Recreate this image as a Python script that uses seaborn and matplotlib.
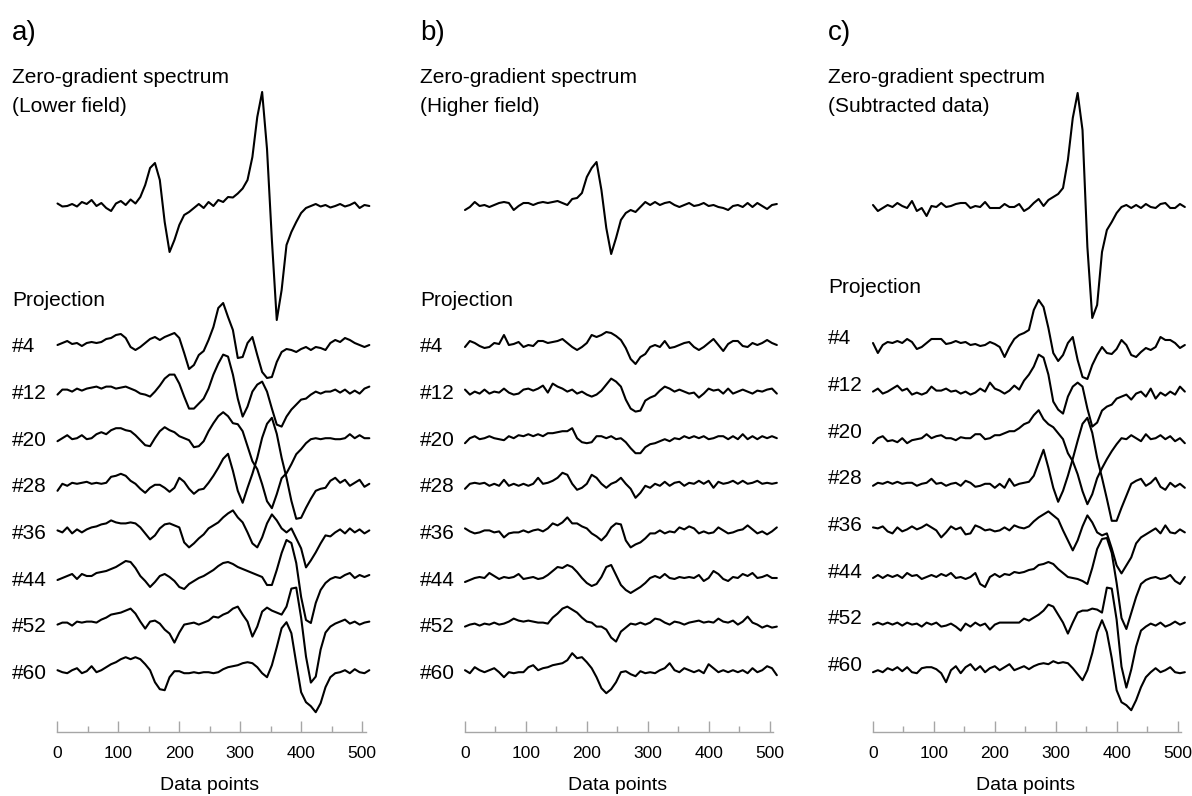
import numpy as np
import pandas as pd
import seaborn as sns
import matplotlib.pyplot as plt

# sampled data-point index (every 8th point of the 512-point spectra)
pts = np.arange(0, 513, 8)

# ---- a) lower field : amplitudes (arb. units) ----
a_zero = [1.5, -1.5, -1, 1, -1.5, 3, 1, 5, -1, 2,
          -3, -6, 1.5, 4, 0, 5.5, 1.5, 8, 20, 37,
          42, 25, -17, -47, -35, -20, -10, -7, -3, 1,
          -3, 3, -1, 5, 3, 8, 7.5, 11.5, 16.5, 25,
          48, 88, 113, 56, -35, -115, -85, -40, -27, -17,
          -8, -3, -1, 1, -1.5, 0, -2.5, -1, 1, -1.5,
          0, 2.5, -3, 0, -1]
a_p04 = [0, 2, 4, 1, 2, -1, 2, 3, 2, 3,
         6, 7, 10, 11, 7, -2, -5, -2, 2, 6,
         8, 5, 8, 10, 12, 7, -8, -24, -20, -10,
         -6, 5, 18, 37, 42, 28, 15, -13, -12, 2,
         8, -10, -27, -33, -32, -17, -7, -4, -5, -7,
         -4, -2, -5, -2, -3, -5, 2, 5, 3, 7,
         5, 2, 0, -2, 0]
a_p12 = [-3, 2, 2, 0, 3, 1, 3, 4, 5, 3,
         5, 5, 3, 4, 5, 3, 1, -2, -3, -5,
         0, 6, 13, 17, 17, 8, -5, -17, -17, -12,
         -7, 3, 17, 28, 37, 35, 17, -7, -25, -15,
         0, 7, 10, 0, -17, -33, -35, -25, -18, -13,
         -8, -7, -3, 0, -2, 0, 0, 2, -1, 2,
         -2, 1, -2, 3, 5]
a_p20 = [-3, 0, 3, -1, 0, 3, -1, 0, 4, 6,
         4, 8, 10, 10, 8, 7, 3, -2, -7, -8,
         0, 7, 11, 8, 6, 2, 0, -2, -9, -8,
         -3, 7, 15, 22, 26, 22, 15, 14, 7, -8,
         -23, -31, -46, -63, -70, -56, -40, -35, -26, -16,
         -11, -5, -1, 0, -1, 0, 0, -1, -1, 0,
         4, 0, 3, 0, 0]
a_p28 = [-6, 1, -1, 2, 1, 2, 3, 1, 2, 1,
         2, 8, 9, 11, 9, 4, 1, -4, -8, -3,
         0, 0, -3, -7, -3, 7, 3, -4, -9, -5,
         -4, 2, 9, 17, 26, 31, 14, -6, -18, -3,
         11, 27, 47, 61, 67, 51, 27, 7, -16, -34,
         -33, -23, -14, -6, -4, -3, 4, 7, 2, 5,
         -1, 2, 5, -2, 1]
a_p36 = [1, -1, 4, -2, 2, -1, 2, 4, 5, 7,
         8, 11, 9, 8, 8, 9, 8, 4, -2, -8,
         -4, 3, 7, 8, 6, 4, -11, -16, -12, -7,
         -3, 3, 6, 9, 14, 18, 21, 14, 9, -1,
         -12, -16, -6, 8, 17, 11, 3, -1, 3, -7,
         -17, -36, -29, -21, -12, -4, -5, -1, 2, -2,
         3, -1, 2, -2, 1]
a_p44 = [-2, 0, 2, 4, -1, 4, 2, 2, 5, 6,
         7, 9, 11, 14, 17, 16, 10, 2, -3, -9,
         -4, 2, 4, 1, -3, -9, -11, -6, -3, 0,
         2, 5, 8, 12, 15, 16, 14, 11, 9, 7,
         5, 3, 1, -7, -7, 8, 25, 38, 35, 15,
         -19, -42, -45, -25, -12, -5, -1, 1, 0, 3,
         5, 0, 3, 1, 3]
a_p52 = [0, 2, 2, -1, 3, 2, 3, 3, 2, 5,
         7, 10, 11, 12, 14, 16, 11, 3, -4, 3,
         4, 1, -5, -9, -18, -8, 0, 1, 2, 0,
         2, 4, 8, 7, 10, 12, 16, 18, 10, 3,
         -12, -2, 13, 17, 14, 12, 10, 18, 36, 37,
         7, -32, -58, -52, -25, -8, -2, 1, 3, 5,
         1, 3, 0, 2, 3]
a_p60 = [1, -1, -2, 1, 3, -2, 0, 5, -1, 1,
         4, 7, 9, 12, 14, 12, 14, 12, 7, 1,
         -11, -18, -19, -6, 0, 0, -2, -2, -1, -2,
         -1, -1, -2, -1, 2, 4, 5, 6, 8, 9,
         8, 4, -2, -6, 6, 24, 43, 49, 38, 8,
         -21, -31, -35, -41, -32, -16, -6, -2, -1, 1,
         -2, 2, -1, -2, 1]

# ---- b) higher field ----
b_zero = [-5, -2, 3, -1, 0, -2, 0, 2, 3, 2,
          -5, -1, 2, 2, 0, 2, 3, 2, 3, 4,
          2, 0, 6, 7, 12, 28, 37, 43, 15, -23,
          -49, -33, -15, -8, -5, -7, -2, 3, 0, 3,
          0, 2, 3, 0, -2, 0, 2, -1, 0, 2,
          -1, 0, -2, -3, -5, -1, 0, -2, 2, -2,
          2, -1, -4, 0, 1]
b_p04 = [-2, 4, 2, -1, -3, -2, 2, 1, 10, 0,
         1, 3, -2, 0, -1, 4, 4, 2, 3, 4,
         6, 2, -2, -5, -2, 2, 10, 8, 10, 13,
         12, 9, 5, -3, -14, -19, -12, -9, -2, 0,
         -2, 4, -3, -2, 0, 2, 3, -2, -5, -2,
         2, 6, 0, -6, 1, 4, 4, -1, -2, 2,
         0, 2, 5, 2, 0]
b_p12 = [2, -3, 0, -2, 2, -2, 0, -1, 3, -1,
         -3, -2, 2, 3, 1, 3, 6, -1, 8, 5,
         3, 0, 2, -2, 0, -3, -5, -3, 1, 7,
         13, 10, 5, -8, -17, -20, -19, -9, -6, -4,
         1, 5, 3, 0, 2, 0, -2, -1, -6, -2,
         3, 1, 2, -2, 3, -2, 0, 2, 0, -2,
         1, 0, 2, 3, -2]
b_p20 = [-5, 0, 2, -1, 0, 2, 0, -1, -2, 2,
         0, 3, 2, 4, 2, 4, 2, 5, 5, 6,
         7, 7, 10, 0, -4, -5, -4, 2, 2, 0,
         2, -1, 0, -4, -10, -15, -15, -9, -6, -5,
         -3, -1, -3, 0, -1, 2, 0, 2, 0, 2,
         -1, 0, 2, 2, -1, 2, -1, 4, -1, 2,
         -1, 2, 0, 2, 0]
b_p28 = [-4, 1, 2, 1, 2, -1, 1, -1, 5, -1,
         1, -1, 1, -1, 1, 7, 1, 2, 4, 7,
         12, 10, 1, -5, -3, 1, 10, 7, 1, -3,
         1, 3, 7, 1, -4, -13, -8, -1, -3, 1,
         -1, 3, -1, 2, 3, -1, 2, 1, 4, 1,
         4, -3, 3, 1, 2, 4, 1, 4, 1, 2,
         4, 1, 2, 1, 2]
b_p36 = [3, 0, -2, -1, 1, 1, -1, 0, -6, -2,
         -1, -1, 1, -1, 1, 2, 0, 3, 8, 6,
         9, 14, 8, 8, 5, 3, -2, -5, -9, -4,
         4, 8, 7, -9, -16, -13, -11, -7, -2, -2,
         1, -2, 0, -1, 4, 2, 5, 3, -2, 0,
         -2, -1, 4, 1, -2, -1, 1, 2, 6, 2,
         -2, 0, -3, 0, 4]
b_p44 = [-4, -2, 0, 1, 0, 5, 2, -1, 1, 0,
         1, 4, -1, 0, 1, -1, 0, 3, 7, 11,
         10, 13, 11, 6, 0, -5, -8, -6, 1, 11,
         13, 3, -7, -12, -15, -12, -9, -5, 0, 2,
         0, 4, 0, -1, 1, 0, 1, 0, 3, -3,
         0, 7, 4, -1, -3, 1, 0, 4, 2, 5,
         0, 1, 3, 0, 0]
b_p52 = [-2, 0, 1, -1, 1, 0, 2, 0, 1, 3,
         6, 4, 3, 4, 3, 2, 2, 1, 7, 11,
         16, 18, 15, 12, 7, 3, 2, -2, -2, -5,
         -13, -17, -7, -3, 1, 0, 2, 0, 2, 6,
         5, 2, 0, 3, 2, 0, 2, 3, 4, 2,
         3, 2, 6, 3, 2, 4, 0, 3, 8, 2,
         0, -3, -1, -3, -2]
b_p60 = [1, -2, 4, 1, -1, 1, 3, -1, -6, -1,
         -2, -1, -1, 4, 6, 1, 3, 4, 6, 7,
         8, 11, 18, 13, 14, 9, 3, -6, -17, -22,
         -18, -11, -1, 0, -3, -5, 0, -2, -1, -2,
         1, 3, 8, 1, -1, 3, 1, -1, 1, -2,
         7, 3, -1, 1, -1, 1, -1, 1, -2, 3,
         -1, 1, 5, 3, -4]

# ---- c) subtracted data ----
c_zero = [0, -6, -3, 0, -2, 2, -1, -3, 4, -6,
          -3, -11, -1, -2, 2, -2, -1, 1, 2, 2,
          -3, -1, -2, 3, -3, -3, -3, 1, -2, -2,
          1, -6, -3, 2, 6, -1, 5, 8, 11, 17,
          45, 87, 112, 75, -42, -113, -100, -47, -25, -17,
          -8, -2, 0, -3, 0, -3, 1, -2, -3, 1,
          2, -3, -3, 1, -2]
c_p04 = [2, -8, 0, 3, 2, 4, 2, 6, 3, -4,
         -2, 2, 6, 6, 6, 1, 2, 4, 2, 3,
         0, 1, -1, 0, 3, 1, -2, -12, -2, 6,
         10, 12, 15, 35, 45, 38, 17, -8, -16, -10,
         2, 8, -15, -32, -34, -20, -10, -2, -8, -9,
         -4, 5, 0, -10, -12, -7, -3, -5, -2, 8,
         5, 5, 2, -3, 0]
c_p12 = [0, 3, -2, 0, 3, 6, 1, 3, -3, -1,
         -3, -1, 5, 1, 1, 3, 0, 1, -2, 0,
         -3, -1, 3, 0, 9, 3, 1, -2, 1, 6,
         2, 11, 17, 25, 37, 34, 17, -10, -18, -22,
         -5, 5, 9, 5, -17, -35, -31, -19, -15, -13,
         -7, -5, -3, -8, -2, 0, -5, 3, -7, -1,
         -4, 0, -3, 5, 0]
c_p20 = [-5, 0, 2, -3, -2, -4, 0, -5, -2, -1,
         0, 4, 0, 2, 3, 0, 0, -2, 1, 0,
         0, 4, 4, -1, 0, 3, 3, 5, 7, 7,
         10, 14, 16, 23, 28, 19, 14, 11, 5, -1,
         -15, -23, -36, -53, -66, -56, -40, -30, -21, -13,
         -6, 0, -1, 3, 0, -3, 4, -1, 0, 3,
         -1, 2, -3, 0, -5]
c_p28 = [-1, 2, 1, 3, 1, 3, 1, 2, 2, -1,
         1, 2, 6, 1, 2, -1, 1, 2, -1, 4,
         2, -2, -1, 1, 1, -3, 1, -3, 6, -1,
         1, 2, 3, 9, 22, 35, 17, -3, -17, -6,
         9, 26, 44, 61, 67, 52, 27, 7, -14, -36,
         -36, -23, -11, 1, 4, 6, -1, 2, 7, -2,
         -5, 2, -2, 1, -3]
c_p36 = [4, 3, 5, 0, -2, 4, 0, 2, 5, 2,
         4, 7, 4, 1, -6, -1, 5, 2, 4, -3,
         -2, 6, 4, 1, 2, 0, 1, 4, 1, 6,
         4, 3, 5, 10, 14, 17, 20, 16, 12, 1,
         -9, -19, -9, 5, 16, 9, -1, -4, -2, -17,
         -34, -42, -34, -26, -12, -6, -3, 0, 3, -2,
         6, -1, -2, 2, -1]
c_p44 = [0, 3, 0, 3, 1, 3, 0, 5, 2, 3,
         -1, 1, 3, 1, 4, 2, 5, 0, 1, -1,
         1, 5, -6, -9, 1, 4, 1, 4, 3, 6,
         5, 6, 8, 9, 13, 14, 16, 14, 9, 5,
         1, 0, -1, -3, -6, 10, 29, 39, 40, 25,
         -5, -40, -51, -35, -19, -6, -2, 0, 1, -1,
         0, 3, -3, -6, 1]
c_p52 = [0, 2, 0, 2, 0, 2, -1, 2, 0, 1,
         -2, 2, 0, 2, -2, -1, 1, -2, -6, 1,
         -2, 2, -1, 1, -5, 0, 2, 2, 2, 2,
         2, 6, 4, 7, 10, 14, 20, 18, 10, 2,
         -9, 2, 12, 14, 14, 16, 15, 12, 37, 36,
         5, -42, -63, -45, -22, -6, -2, 1, -1, 2,
         -2, 0, 3, 0, 2]
c_p60 = [-1, 1, -1, 3, 1, 4, 0, 4, -1, -2,
         3, 4, 4, 2, -2, -11, 1, 5, -2, 4,
         7, 1, 5, -1, 3, 5, 1, 4, 7, 1,
         3, 5, 2, 5, 7, 8, 7, 10, 8, 9,
         8, 3, -3, -9, 1, 18, 39, 51, 39, 13,
         -19, -31, -34, -39, -29, -16, -6, -1, 3, -1,
         1, 4, -1, -2, -1]

proj_labels = ['#4', '#12', '#20', '#28', '#36', '#44', '#52', '#60']
panel_tags = ['a)', 'b)', 'c)']
panel_subtitles = ['(Lower field)', '(Higher field)', '(Subtracted data)']

panel_traces = [
    [a_zero, a_p04, a_p12, a_p20, a_p28, a_p36, a_p44, a_p52, a_p60],
    [b_zero, b_p04, b_p12, b_p20, b_p28, b_p36, b_p44, b_p52, b_p60],
    [c_zero, c_p04, c_p12, c_p20, c_p28, c_p36, c_p44, c_p52, c_p60],
]

# stacking offsets (figure pixels from top)
zero_base = 205
proj_base = 345
proj_step = 46.6

frames = []
for p, traces in enumerate(panel_traces):
    for k, amp in enumerate(traces):
        base = zero_base if k == 0 else proj_base + proj_step * (k - 1)
        frames.append(pd.DataFrame({'panel': p, 'trace': k, 'x': pts,
                                    'y': -base + np.asarray(amp, float)}))
df = pd.concat(frames, ignore_index=True)

sns.set_style('white')
plt.rcParams['font.family'] = ['Liberation Sans', 'DejaVu Sans']
plt.rcParams['text.color'] = 'black'

W, H = 1192, 796
fig = plt.figure(figsize=(W / 100, H / 100), dpi=100)

ax_left = [51.4, 458.9, 866.9]
ax_w = 328.9
ax_top, ax_bot = 80, 732
text_x = [12, 420, 828]
label_shift = [0, 0, -8]
proj_title_y = [306, 306, 293]

for p in range(3):
    ax = fig.add_axes([ax_left[p] / W, (H - ax_bot) / H, ax_w / W, (ax_bot - ax_top) / H])
    sns.lineplot(data=df[df['panel'] == p], x='x', y='y', units='trace',
                 estimator=None, color='black', lw=1.5, ax=ax, legend=False)
    ax.set_xlim(-10, 530)
    ax.set_ylim(-ax_bot, -ax_top)
    for s in ['left', 'top', 'right']:
        ax.spines[s].set_visible(False)
    ax.spines['bottom'].set_color('#a6a6a6')
    ax.spines['bottom'].set_linewidth(1.0)
    ax.spines['bottom'].set_bounds(0, 506)
    ax.set_yticks([])
    ax.set_xticks(range(0, 501, 100))
    ax.set_xticks(range(50, 500, 100), minor=True)
    ax.tick_params(axis='x', which='major', bottom=True, direction='in', length=8, width=1,
                   color='#a6a6a6', pad=10, labelsize=12.5, labelcolor='black')
    ax.tick_params(axis='x', which='minor', bottom=True, direction='in', length=4, width=1,
                   color='#a6a6a6')
    ax.set_xlabel('')
    ax.set_ylabel('')
    ax.text(250, -(790 - ax_bot) / (ax_bot - ax_top), 'Data points',
            transform=ax.get_xaxis_transform(), ha='center', va='baseline',
            fontsize=14, color='black')
    ax.patch.set_alpha(0)

    tx = text_x[p] / W
    fig.text(tx, 1 - 40 / H, panel_tags[p], fontsize=20, va='baseline')
    fig.text(tx, 1 - 83 / H, 'Zero-gradient spectrum', fontsize=15, va='baseline')
    fig.text(tx, 1 - 112 / H, panel_subtitles[p], fontsize=15, va='baseline')
    fig.text(tx, 1 - proj_title_y[p] / H, 'Projection', fontsize=15, va='baseline')
    for i, lab in enumerate(proj_labels):
        yb = proj_base + proj_step * i + 7.5 + label_shift[p]
        fig.text(tx, 1 - yb / H, lab, fontsize=15, va='baseline')

fig.savefig('out.png', dpi=100)
